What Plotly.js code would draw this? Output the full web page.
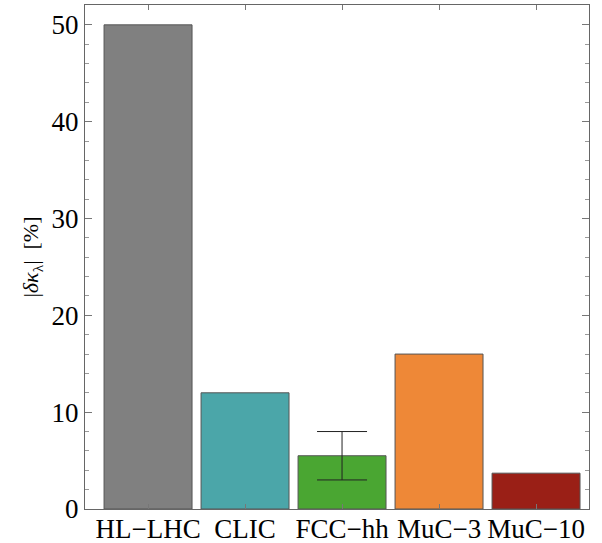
<!DOCTYPE html>
<html>
<head>
<meta charset="utf-8">
<script src="https://cdn.plot.ly/plotly-3.0.1.min.js"></script>
<style>html,body{margin:0;padding:0;background:#fff;}#chart{width:602px;height:543px;}</style>
</head>
<body>
<div id="chart"></div>
<script>
const categories = ["HL\u2212LHC", "CLIC", "FCC\u2212hh", "MuC\u22123", "MuC\u221210"];
const values = [50, 12, 5.5, 16, 3.7];
const colors = ["#808080", "#4ba6a9", "#4aa632", "#ee8837", "#9a1f16"];
const errCategoryIndex = [2];
const errCenter = [5.5];
const errPlus = [2.5];
const errMinus = [2.5];
const yTicks = [0, 10, 20, 30, 40, 50];

const xs = categories.map((c, i) => i);
const font = "Liberation Serif, Times New Roman, serif";

const traces = [
  {
    type: "bar",
    x: xs,
    y: values,
    width: 0.907,
    marker: {color: colors, line: {color: "#555555", width: 1}},
    hoverinfo: "skip"
  },
  {
    type: "scatter",
    mode: "markers",
    x: errCategoryIndex,
    y: errCenter,
    marker: {opacity: 0, size: 1},
    error_y: {type: "data", symmetric: false, array: errPlus, arrayminus: errMinus,
              color: "#222222", thickness: 1, width: 25},
    hoverinfo: "skip"
  }
];

const layout = {
  width: 602,
  height: 543,
  margin: {l: 85, r: 13, t: 4.5, b: 34},
  paper_bgcolor: "#ffffff",
  plot_bgcolor: "#ffffff",
  showlegend: false,
  font: {family: font, color: "#000"},
  xaxis: {
    range: [-0.65, 4.546],
    tickmode: "array",
    tickvals: xs,
    ticktext: categories,
    ticks: "inside",
    ticklen: 5,
    tickcolor: "#777",
    tickwidth: 1,
    ticklabelstandoff: -4,
    showline: true,
    linecolor: "#666",
    linewidth: 1,
    mirror: "ticks",
    showgrid: false,
    zeroline: false,
    tickfont: {family: font, size: 27, color: "#000"}
  },
  yaxis: {
    range: [0, 52.05],
    tickmode: "array",
    tickvals: yTicks,
    ticks: "inside",
    ticklen: 7,
    tickcolor: "#777",
    tickwidth: 1,
    minor: {dtick: 2, ticks: "inside", ticklen: 4, tickcolor: "#999", tickwidth: 1, showgrid: false},
    showline: true,
    linecolor: "#666",
    linewidth: 1,
    mirror: "ticks",
    showgrid: false,
    zeroline: false,
    tickfont: {family: font, size: 27, color: "#000"},
    title: {text: "|<i>δκ</i><sub>λ</sub>|  [%]", font: {family: font, size: 22, color: "#000"}, standoff: 6}
  }
};

Plotly.newPlot("chart", traces, layout, {staticPlot: true, displayModeBar: false});
</script>
</body>
</html>
